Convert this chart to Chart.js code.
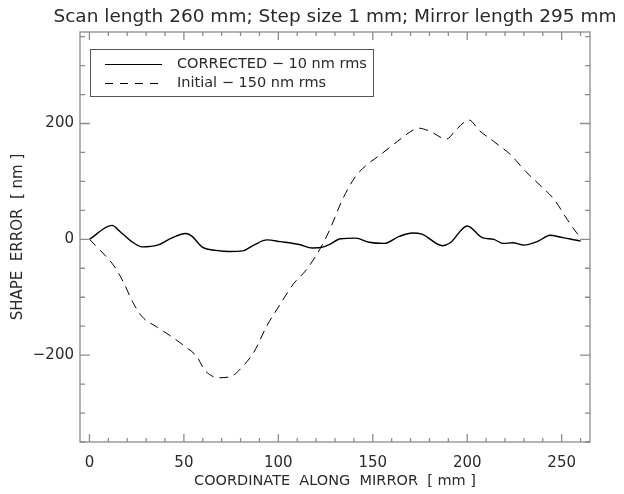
<!DOCTYPE html>
<html>
<head>
<meta charset="utf-8">
<script src="https://cdn.jsdelivr.net/npm/chart.js@4.4.1/dist/chart.umd.min.js"></script>
<style>
  html, body { margin: 0; padding: 0; background: #fff; }
  #wrap { width: 624px; height: 494px; }
</style>
</head>
<body>
<div id="wrap"><canvas id="c" width="624" height="494"></canvas></div>
<script>
// ── Data ─────────────────────────────────────────────────────
var TITLE = 'Scan length 260 mm; Step size 1 mm; Mirror length 295 mm';
var X_TITLE = 'COORDINATE  ALONG  MIRROR  [ mm ]';
var Y_TITLE = 'SHAPE  ERROR  [ nm ]';

var X_TICKS = [0, 50, 100, 150, 200, 250];
var Y_TICKS = [-200, 0, 200];

var CORR_LABEL = 'CORRECTED \u2212 10 nm rms';
var CORR_X = [0, 12, 16, 22, 28, 36, 44, 51, 54, 60, 67, 74, 81, 87, 94, 101, 111, 118, 124, 127,
              133, 141, 148, 156, 164, 171, 176, 187, 191, 200, 208, 214, 219, 224, 230, 237, 244, 249, 254, 260];
var CORR_Y = [0, 24, 14, -3, -13, -10, 3, 10, 6, -14, -19, -21, -20, -10, -1, -4, -9, -15, -13, -9,
              1, 2, -5, -7, 5, 11, 9, -11, -6, 23, 3, 0, -7, -6, -10, -4, 7, 4, 1, -3];

var INIT_LABEL = 'Initial \u2212 150 nm rms';
var INIT_X = [0, 6, 13, 18, 23, 28, 36, 43, 51, 57, 61, 69, 76, 81, 87, 94, 101, 108, 115, 122,
              127, 134, 141, 147, 154, 163, 170, 174, 180, 189, 194, 201, 206, 214, 223, 231, 239, 246, 253, 258, 260];
var INIT_Y = [0, -20, -46, -74, -109, -134, -152, -167, -186, -203, -226, -239, -235, -220, -195, -149, -112, -77, -52, -17,
              15, 69, 109, 129, 146, 169, 186, 192, 187, 173, 189, 206, 189, 169, 146, 117, 92, 69, 34, 11, 4];

// ── Style ────────────────────────────────────────────────────
var FONT = "'DejaVu Sans', sans-serif";
var TEXT_COLOR = '#2a2a2a';
var AXIS_COLOR = '#8c8c8c';

function pts(xs, ys) {
  return xs.map(function (x, i) { return { x: x, y: ys[i] }; });
}

// title centred over the plot frame (Chart.js title would squeeze it)
var frameTitle = {
  id: 'frameTitle',
  afterDraw: function (chart) {
    var a = chart.chartArea, ctx = chart.ctx;
    ctx.save();
    ctx.font = '18.5px ' + FONT;
    ctx.fillStyle = TEXT_COLOR;
    ctx.textAlign = 'center';
    ctx.textBaseline = 'alphabetic';
    ctx.fillText(TITLE, (a.left + a.right) / 2, 22);
    ctx.restore();
  }
};

// frame + inward ticks on all four sides (IDL style)
var frameTicks = {
  id: 'frameTicks',
  afterDraw: function (chart) {
    var a = chart.chartArea, ctx = chart.ctx;
    var xs = chart.scales.x, ys = chart.scales.y;
    var v, p;
    ctx.save();
    ctx.strokeStyle = AXIS_COLOR;
    ctx.lineWidth = 1.3;
    ctx.strokeRect(a.left, a.top, a.right - a.left, a.bottom - a.top);
    ctx.beginPath();
    for (v = 0; v <= 260; v += 10) {
      p = xs.getPixelForValue(v);
      var lx = (v % 50 === 0) ? 8 : 4;
      ctx.moveTo(p, a.bottom); ctx.lineTo(p, a.bottom - lx);
      ctx.moveTo(p, a.top);    ctx.lineTo(p, a.top + lx);
    }
    for (v = -350; v <= 350; v += 50) {
      p = ys.getPixelForValue(v);
      var ly = (v % 200 === 0) ? 10 : 5;
      ctx.moveTo(a.left, p);  ctx.lineTo(a.left + ly, p);
      ctx.moveTo(a.right, p); ctx.lineTo(a.right - ly, p);
    }
    ctx.stroke();
    ctx.restore();
  }
};

// boxed legend inside the plot, top left
var boxLegend = {
  id: 'boxLegend',
  afterDraw: function (chart) {
    var ctx = chart.ctx;
    var bx = 90, by = 49, bw = 283, bh = 47;
    ctx.save();
    ctx.strokeStyle = '#555';
    ctx.lineWidth = 1;
    ctx.strokeRect(bx + 0.5, by + 0.5, bw, bh);
    ctx.font = '14.5px ' + FONT;
    ctx.fillStyle = TEXT_COLOR;
    ctx.textBaseline = 'middle';
    chart.data.datasets.forEach(function (ds, i) {
      var y = by + 15 + i * 19;
      ctx.strokeStyle = '#000';
      ctx.lineWidth = 1;
      ctx.setLineDash(ds.borderDash ? [8, 7] : []);
      ctx.beginPath();
      ctx.moveTo(bx + 15, y + 0.5); ctx.lineTo(bx + 72, y + 0.5);
      ctx.stroke();
      ctx.setLineDash([]);
      ctx.fillText(ds.label, bx + 87, y);
    });
    ctx.restore();
  }
};

new Chart(document.getElementById('c').getContext('2d'), {
  type: 'line',
  data: {
    datasets: [{
      label: CORR_LABEL,
      data: pts(CORR_X, CORR_Y),
      borderColor: '#000',
      borderWidth: 1.4,
      pointRadius: 0,
      cubicInterpolationMode: 'monotone'
    }, {
      label: INIT_LABEL,
      data: pts(INIT_X, INIT_Y),
      borderColor: '#000',
      borderWidth: 1,
      borderDash: [9, 6],
      pointRadius: 0,
      cubicInterpolationMode: 'monotone'
    }]
  },
  options: {
    responsive: false,
    animation: false,
    layout: { padding: { left: 0, right: 34, top: 32, bottom: 0 } },
    plugins: {
      legend: { display: false },
      tooltip: { enabled: false },
      title: { display: false }
    },
    scales: {
      x: {
        type: 'linear',
        min: -5, max: 265,
        grid: { display: false, drawTicks: false },
        border: { display: false },
        afterBuildTicks: function (s) { s.ticks = X_TICKS.map(function (v) { return { value: v }; }); },
        afterFit: function (s) { s.height = 52; },
        ticks: { color: TEXT_COLOR, font: { family: FONT, size: 15 }, padding: 12, maxRotation: 0 },
        title: { display: true, text: X_TITLE, color: TEXT_COLOR, font: { family: FONT, size: 14.5 }, padding: { top: 0, bottom: 4 } }
      },
      y: {
        type: 'linear',
        min: -350, max: 358,
        grid: { display: false, drawTicks: false },
        border: { display: false },
        afterBuildTicks: function (s) { s.ticks = Y_TICKS.map(function (v) { return { value: v }; }); },
        afterFit: function (s) { s.width = 80; },
        ticks: {
          color: TEXT_COLOR, font: { family: FONT, size: 15 }, padding: 6,
          callback: function (v) { return v < 0 ? '\u2212' + Math.abs(v) : String(v); }
        },
        title: { display: true, text: Y_TITLE, color: TEXT_COLOR, font: { family: FONT, size: 15 }, padding: { top: 9, bottom: 0 } }
      }
    }
  },
  plugins: [frameTicks, boxLegend, frameTitle]
});
</script>
</body>
</html>
